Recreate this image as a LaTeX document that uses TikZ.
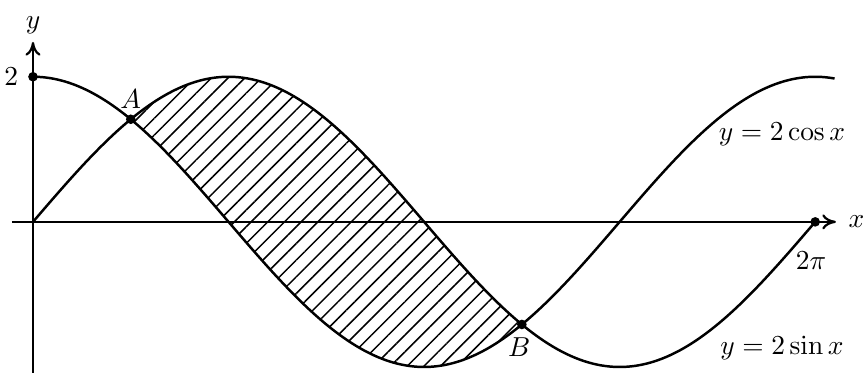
\documentclass[tikz,border=0pt]{standalone}
\usepackage{amsmath}
\usetikzlibrary{arrows.meta,positioning,patterns.meta}

\begin{document}
\begin{tikzpicture}[
      x=1.594cm, y=0.929cm,
      axis/.style={line width=0.8pt, -{To[length=5pt,width=5.5pt]}},
      curve/.style={line width=0.9pt, samples=150, smooth},
      hatch/.style={pattern={Lines[angle=45,distance=4.3pt,line width=0.55pt]}},
      dot/.style={circle, fill, inner sep=0pt, minimum size=3.5pt},
      lbl/.style={inner sep=1pt}]

    %% Frame: one x unit is one radian, one y unit is one unit of height;
    %% the box keeps the margins round the plot.
    \useasboundingbox (-0.265,-2.080) rectangle (6.667,3.058);

    %% ---- points on the curves ----
    \coordinate (O)  at (0,0);
    \coordinate (Y2) at (0,2);
    \coordinate (A)  at ({pi/4},{sqrt(2)});
    \coordinate (B)  at ({5*pi/4},{-sqrt(2)});
    \coordinate (T)  at ({2*pi},0);
    \coordinate (xL) at (-0.17,0);
    \coordinate (xR) at (6.45,0);
    \coordinate (yB) at (0,-2.2);
    \coordinate (yT) at (0,2.48);

    %% ---- the region between the curves, from A to B ----
    \fill[hatch] plot[domain=pi/4:5*pi/4, samples=100, smooth] (\x,{2*sin(\x r)})
      -- plot[domain=5*pi/4:pi/4, samples=100, smooth] (\x,{2*cos(\x r)}) -- cycle;

    %% ---- axes ----
    \draw[axis] (xL) -- (xR);
    \draw[axis] (yB) -- (yT);
    \node[lbl, right=3.4pt of xR] (xlab) {$x$};
    \node[lbl, above=1.8pt of yT] (ylab) {$y$};

    %% ---- the two curves ----
    \draw[curve] plot[domain=0:2*pi] (\x,{2*sin(\x r)});
    \draw[curve] plot[domain=0:6.44] (\x,{2*cos(\x r)});
    \node[lbl] (cosl) at (6.016,1.212) {$y = 2\cos x$};
    \node[lbl] (sinl) at (6.016,-1.736) {$y = 2\sin x$};

    %% ---- marked points ----
    \node[dot] (dY) at (Y2) {};
    \node[dot] (dA) at (A) {};
    \node[dot] (dB) at (B) {};
    \node[dot] (dT) at (T) {};
    \node[lbl, left=2.3pt of dY] (twol) {$2$};
    \node[lbl, above=0.7pt of dA] (Al) {$A$};
    \node[lbl, below=1.8pt of dB, xshift=-1pt] (Bl) {$B$};
    \node[lbl, below=7.7pt of dT, xshift=-1.5pt] (pil) {$2\pi$};
\end{tikzpicture}
\end{document}
